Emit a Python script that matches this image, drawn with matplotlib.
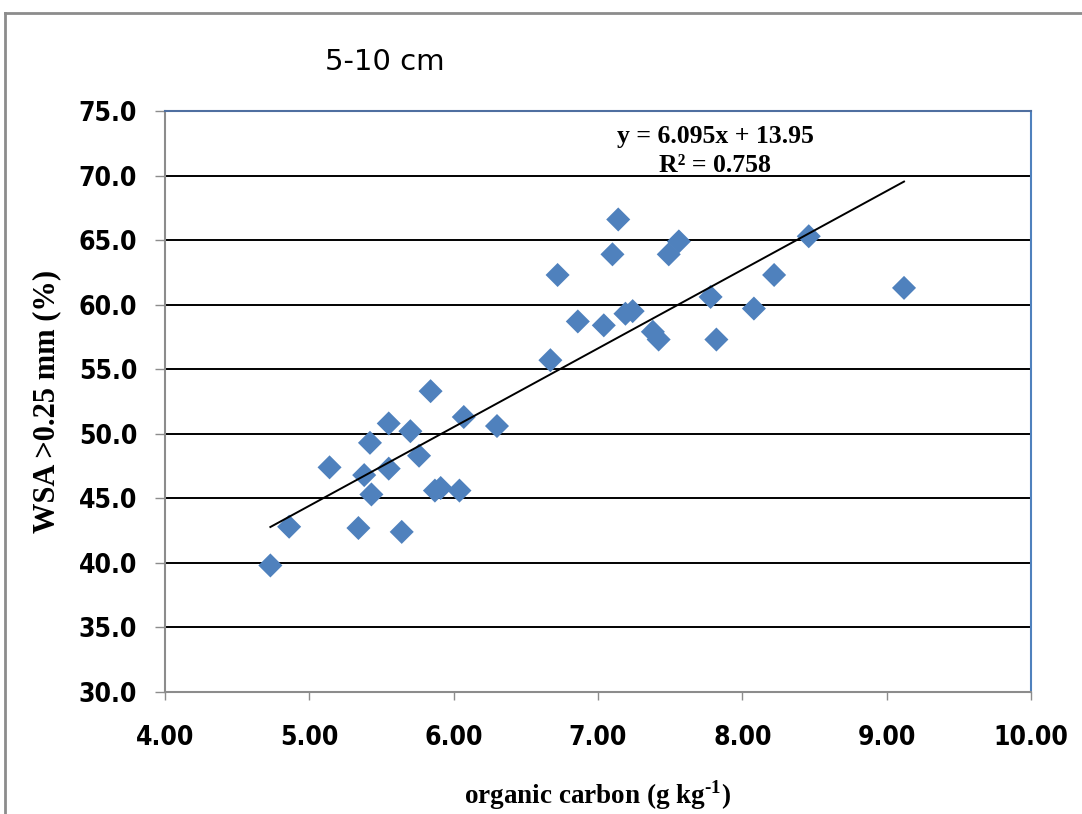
# coding: UTF-8

import numpy as np
import matplotlib
import matplotlib.pyplot as plt
from matplotlib.lines import Line2D

# organic carbon (g/kg) vs WSA >0.25 mm (%), 5-10 cm layer
oc = [4.73, 4.86, 5.14, 5.34, 5.38, 5.42, 5.43, 5.55, 5.55, 5.64,
      5.70, 5.76, 5.84, 5.87, 5.91, 6.04, 6.07, 6.30, 6.67, 6.72,
      6.86, 7.04, 7.10, 7.14, 7.19, 7.24, 7.38, 7.42, 7.49, 7.56,
      7.78, 7.82, 8.08, 8.22, 8.46, 9.12]
wsa = [39.8, 42.8, 47.4, 42.7, 46.8, 49.3, 45.3, 50.8, 47.3, 42.4,
       50.2, 48.3, 53.3, 45.6, 45.8, 45.6, 51.3, 50.6, 55.7, 62.3,
       58.7, 58.4, 63.9, 66.6, 59.3, 59.5, 57.9, 57.3, 63.9, 64.9,
       60.6, 57.3, 59.7, 62.3, 65.3, 61.3]

slope = 6.095
intercept = 13.95
r2 = 0.758

xticks = [4, 5, 6, 7, 8, 9, 10]
yticks = [30, 35, 40, 45, 50, 55, 60, 65, 70, 75]

tick_font = 'DejaVu Sans'
serif = 'Liberation Serif'

matplotlib.rcParams['mathtext.fontset'] = 'custom'
matplotlib.rcParams['mathtext.rm'] = 'Liberation Serif:bold'
matplotlib.rcParams['mathtext.bf'] = 'Liberation Serif:bold'

fig = plt.figure(figsize=(10.82, 8.14), dpi=100)
ax = fig.add_axes([0.1525, 0.1499, 0.8004, 0.7137])

# outer chart frame (top and left only visible)
fig.add_artist(Line2D([5/1082, 1], [1 - 13/814, 1 - 13/814], transform=fig.transFigure,
                      color='#8c8c8c', lw=2))
fig.add_artist(Line2D([5/1082, 5/1082], [0, 1 - 13/814], transform=fig.transFigure,
                      color='#8c8c8c', lw=2))

for y in yticks[1:-1]:
    ax.axhline(y, color='black', lw=1.4, zorder=1)

ax.scatter(oc, wsa, marker='D', s=150, color='#4F81BD', edgecolors='none', zorder=3)

xl = np.array([min(oc), max(oc)])
ax.plot(xl, slope * xl + intercept, color='black', lw=1.4, zorder=4)

tfont = {'family': tick_font, 'weight': 'bold', 'size': 19, 'stretch': 'condensed'}
ax.set_xlim(4, 10)
ax.set_ylim(30, 75)
ax.set_xticks(xticks)
ax.set_yticks(yticks)
ax.set_xticklabels(['%.2f' % v for v in xticks], fontdict=tfont)
ax.set_yticklabels(['%.1f' % v for v in yticks], fontdict=tfont)

ax.tick_params(axis='x', direction='out', length=6, width=1, color='#8c8c8c', pad=18)
ax.tick_params(axis='y', direction='out', length=7, width=1, color='#8c8c8c', pad=13)

ax.spines['left'].set_color('#8c8c8c')
ax.spines['bottom'].set_color('#8c8c8c')
ax.spines['top'].set_color('#4F6FA0')
ax.spines['right'].set_color('#4F81BD')
for s in ax.spines.values():
    s.set_linewidth(1.5)

ax.set_xlabel('organic carbon (g kg$^{\\text{-1}}$)', fontfamily=serif, fontweight='bold',
              fontsize=19.5, va='center')
ax.set_ylabel('WSA >0.25 mm (%)', fontfamily=serif, fontweight='bold', fontsize=22, va='center')
ax.xaxis.set_label_coords(0.5, -0.1773)
ax.yaxis.set_label_coords(-0.1363, 0.5)

fig.text(385/1082, 1 - 62/814, '5-10 cm', fontfamily=tick_font, fontsize=21,
         ha='center', va='center')

ax.text(715/1082, 1 - 136/814, 'y = %.3fx + %.2f' % (slope, intercept), transform=fig.transFigure,
        fontfamily=serif, fontweight='bold', fontsize=18.5, ha='center', va='center')
ax.text(715/1082, 1 - 165/814, 'R² = %.3f' % r2, transform=fig.transFigure,
        fontfamily=serif, fontweight='bold', fontsize=18.5, ha='center', va='center')

fig.savefig('out.png', dpi=100)
